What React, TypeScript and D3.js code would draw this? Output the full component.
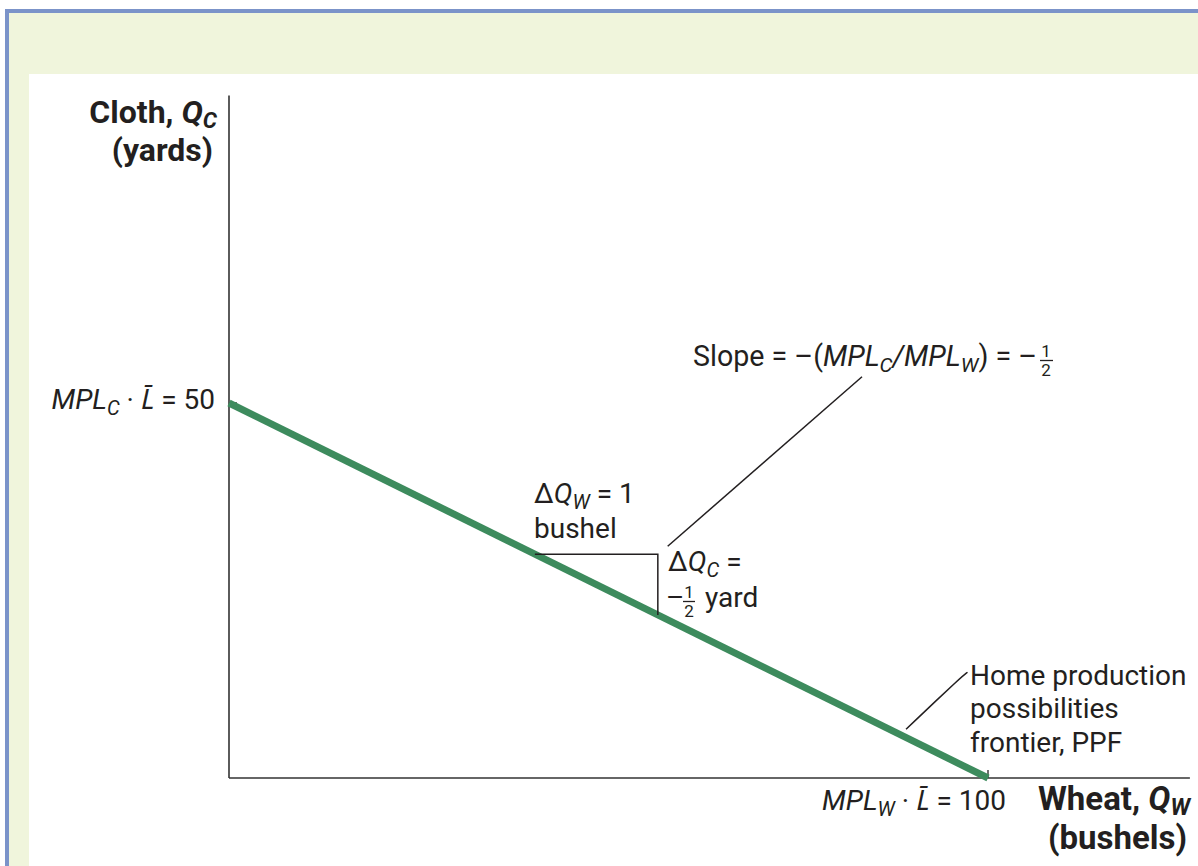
import React from 'react';
import * as d3 from 'd3';

// PPF endpoints (wheat, cloth)
const ppfWheat = [0, 100];
const ppfCloth = [50, 0];
// axis extents in data units
const xAxisMax = 126.6;
const yAxisMax = 91;
// triangle illustrating the slope (wheat values on the PPF)
const triangleWheat = [40.3, 56.5];
// leader lines (data units)
const slopeLeader: [number, number][] = [[57.8, 30.9], [83.4, 53.5]];
const ppfLeader: [number, number][] = [[89.2, 6.5], [96.6, 13.6], [97.3, 14.1]];

const INK = '#231f20';
const GREEN = '#3d8b5d';
const FONT = 'Roboto, "Noto Sans", sans-serif';

export default function App() {
  const x = d3.scaleLinear().domain([0, 100]).range([229, 988]);
  const y = d3.scaleLinear().domain([0, 50]).range([778, 403]);
  const ppf = d3.scaleLinear().domain(ppfWheat).range(ppfCloth);

  const ppfPath = d3.line<number>().x((d) => x(d)).y((d) => y(ppf(d)))(ppfWheat) || '';
  const leaderLine = d3.line<[number, number]>().x((d) => x(d[0])).y((d) => y(d[1]));
  const ppfLeaderPath = d3.line<[number, number]>().x((d) => x(d[0])).y((d) => y(d[1])).curve(d3.curveBasis)(ppfLeader) || '';

  const [tw0, tw1] = triangleWheat;
  const triPath = `M${x(tw0)},${y(ppf(tw0))}H${x(tw1)}V${y(ppf(tw1))}`;

  const sub = 6;
  const subB = 5;

  return (
    <svg width={1198} height={866} style={{ position: 'absolute', left: 0, top: 0 }} fontFamily={FONT}>
      {/* frame */}
      <rect x={0} y={0} width={1198} height={866} fill="#ffffff" />
      <rect x={9} y={12} width={1189} height={854} fill="#f0f5dc" />
      <rect x={29} y={74} width={1169} height={792} fill="#ffffff" />
      <rect x={5} y={9} width={1193} height={4} fill="#7b93c9" />
      <rect x={5} y={9} width={4} height={857} fill="#7b93c9" />

      {/* axes */}
      <line x1={x(0)} x2={x(0)} y1={y(0)} y2={y(yAxisMax)} stroke="#333" strokeWidth={1.6} />
      <line x1={x(0)} x2={x(xAxisMax)} y1={y(0)} y2={y(0)} stroke="#333" strokeWidth={1.6} />
      <line x1={x(0)} x2={x(0) + 8} y1={y(50)} y2={y(50)} stroke="#333" strokeWidth={1.4} />
      <line x1={x(100)} x2={x(100)} y1={y(0)} y2={y(0) - 8} stroke="#333" strokeWidth={1.4} />

      {/* PPF */}
      <path d={ppfPath} stroke={GREEN} strokeWidth={7} fill="none" />

      {/* triangle */}
      <path d={triPath} stroke={INK} strokeWidth={1.5} fill="none" />

      {/* leaders */}
      <path d={leaderLine(slopeLeader) || ''} stroke={INK} strokeWidth={1.5} fill="none" />
      <path d={ppfLeaderPath} stroke={INK} strokeWidth={1.5} fill="none" />

      {/* y-axis title */}
      <text x={217} y={123} textAnchor="end" fontSize={32} fontWeight="bold" fill={INK}>
        Cloth, <tspan fontStyle="italic">Q</tspan>
        <tspan fontStyle="italic" fontSize="0.7em" dy={subB}>C</tspan>
      </text>
      <text x={213} y={161} textAnchor="end" fontSize={32} fontWeight="bold" fill={INK}>(yards)</text>

      {/* y tick label */}
      <text x={215} y={409} textAnchor="end" fontSize={28} fill={INK}>
        <tspan fontStyle="italic">MPL</tspan>
        <tspan fontStyle="italic" fontSize="0.72em" dy={sub}>C</tspan>
        <tspan dy={-sub}> · </tspan>
        <tspan fontStyle="italic">L&#772;</tspan>
        <tspan> = 50</tspan>
      </text>

      {/* slope label */}
      <text x={1037} y={366} textAnchor="end" fontSize={28.6} fill={INK}>
        Slope = –(<tspan fontStyle="italic">MPL</tspan>
        <tspan fontStyle="italic" fontSize="0.72em" dy={sub}>C</tspan>
        <tspan dy={-sub} fontStyle="italic">/MPL</tspan>
        <tspan fontStyle="italic" fontSize="0.72em" dy={sub}>W</tspan>
        <tspan dy={-sub}>) = –</tspan>
      </text>
      <text x={1046} y={357} textAnchor="middle" fontSize={17} fill={INK}>1</text>
      <line x1={1040} x2={1053} y1={360.5} y2={360.5} stroke={INK} strokeWidth={1.3} />
      <text x={1046} y={376} textAnchor="middle" fontSize={17} fill={INK}>2</text>

      {/* triangle labels */}
      <text x={534} y={503} fontSize={28} fill={INK}>
        Δ<tspan fontStyle="italic">Q</tspan>
        <tspan fontStyle="italic" fontSize="0.72em" dy={sub}>W</tspan>
        <tspan dy={-sub}> = 1</tspan>
      </text>
      <text x={534} y={538} fontSize={28} fill={INK}>bushel</text>

      <text x={668} y={571} fontSize={28} fill={INK}>
        Δ<tspan fontStyle="italic">Q</tspan>
        <tspan fontStyle="italic" fontSize="0.72em" dy={sub}>C</tspan>
        <tspan dy={-sub}> =</tspan>
      </text>
      <text x={666} y={607} fontSize={28} fill={INK}>–</text>
      <text x={689} y={598} textAnchor="middle" fontSize={17} fill={INK}>1</text>
      <line x1={683} x2={695} y1={601.5} y2={601.5} stroke={INK} strokeWidth={1.3} />
      <text x={689} y={617} textAnchor="middle" fontSize={17} fill={INK}>2</text>
      <text x={705} y={607} fontSize={28} fill={INK}>yard</text>

      {/* PPF label */}
      <text x={970} y={685} fontSize={28} fill={INK}>Home production</text>
      <text x={970} y={718} fontSize={28} fill={INK}>possibilities</text>
      <text x={970} y={752} fontSize={28} fill={INK}>frontier, PPF</text>

      {/* x tick label */}
      <text x={1006} y={810} textAnchor="end" fontSize={28} fill={INK}>
        <tspan fontStyle="italic">MPL</tspan>
        <tspan fontStyle="italic" fontSize="0.72em" dy={sub}>W</tspan>
        <tspan dy={-sub}> · </tspan>
        <tspan fontStyle="italic">L&#772;</tspan>
        <tspan> = 100</tspan>
      </text>

      {/* x-axis title */}
      <text x={1190} y={810} textAnchor="end" fontSize={33} fontWeight="bold" fill={INK}>
        Wheat, <tspan fontStyle="italic">Q</tspan>
        <tspan fontStyle="italic" fontSize="0.7em" dy={subB}>W</tspan>
      </text>
      <text x={1187} y={849} textAnchor="end" fontSize={33} fontWeight="bold" fill={INK}>(bushels)</text>
    </svg>
  );
}
